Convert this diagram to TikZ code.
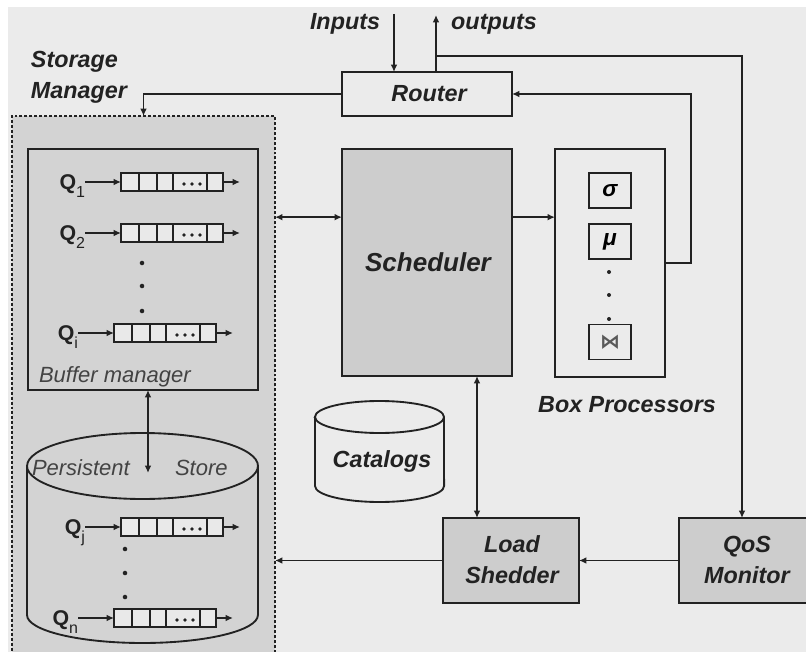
\documentclass[tikz,border=0pt]{standalone}
\usepackage{fontspec}
\setmainfont{Liberation Sans}
\newfontfamily\symfont{DejaVu Sans}
\usetikzlibrary{arrows.meta}

\definecolor{bgc}{HTML}{EBEBEB}
\definecolor{panel}{HTML}{D3D3D3}
\definecolor{unitc}{HTML}{CDCDCD}
\definecolor{cellc}{HTML}{E9E9E9}
\definecolor{ink}{HTML}{222222}

\newcommand\qname[1]{Q\raisebox{-0.7ex}{\fontsize{12}{12}\selectfont\mdseries #1}}

\tikzset{
  conn/.style={draw=ink, line width=1.2pt},
  arr/.style={conn, -{Latex[length=5.5pt,width=5pt]}},
  darr/.style={conn, {Latex[length=5.5pt,width=5pt]}-{Latex[length=5.5pt,width=5pt]}},
  blk/.style={draw=ink, line width=1.4pt, inner sep=0pt, outer sep=0pt},
  title/.style={font=\fontsize{17.5}{23.25}\selectfont\bfseries\itshape, text=ink,
                inner sep=0pt, outer sep=0pt, align=center},
  plainlab/.style={font=\fontsize{16.5}{20}\selectfont\itshape, text=ink!85,
                inner sep=0pt, outer sep=0pt},
  qlab/.style={font=\fontsize{16}{18}\selectfont\bfseries, text=ink, inner sep=0pt, outer sep=0pt},
  vdot/.style={fill=ink},
  queue/.pic={
    \coordinate (-in) at (0,0);
    \path[draw=ink, fill=cellc, line width=1pt] (0,-9) rectangle (102,9);
    \foreach \xx in {18,36,52,86} \draw[ink, line width=1.1pt] (\xx,-9) -- (\xx,9);
    \foreach \xx in {63,71,79} \fill[ink] (\xx,2) circle (1.4pt);
    \coordinate (-out) at (102,0);
    \coordinate (-end) at (119,0);
    \draw[arr] (-out) -- (-end);
  }
}

\begin{document}
\begin{tikzpicture}[x=0.75pt,y=-0.75pt]
\useasboundingbox (0,0) rectangle (806,652);
\fill[white] (0,0) rectangle (806,652);
\fill[bgc] (8,7) rectangle (806,652);

% ---------- storage manager ----------
\node[blk, dash pattern=on 2.2pt off 1.5pt, line width=1.6pt, fill=panel,
      minimum width=263*0.75pt, minimum height=550*0.75pt] (sm) at (143.5,391) {};
\node[title, anchor=west, align=left] (smlab) at (31,77) {Storage\\Manager};

% buffer manager
\node[blk, fill=panel, minimum width=230*0.75pt, minimum height=241*0.75pt] (bm) at (143,269.5) {};
\node[plainlab, anchor=base west] (bmlab) at (39,382) {Buffer manager};

\pic (q1) at (121,182) {queue};
\node[qlab, anchor=base east] (q1lab) at (85,189.5) {\qname{1}};
\draw[arr] (q1lab.east |- q1-in) -- (q1-in);

\pic (q2) at (121,233) {queue};
\node[qlab, anchor=base east] (q2lab) at (85,240.5) {\qname{2}};
\draw[arr] (q2lab.east |- q2-in) -- (q2-in);

\foreach \yy in {263,286,311} \fill[vdot] (142,\yy) circle (1.7pt);

\pic (qi) at (114,333) {queue};
\node[qlab, anchor=base east] (qilab) at (78,340.5) {\qname{i}};
\draw[arr] (qilab.east |- qi-in) -- (qi-in);

% persistent store
\path[draw=ink, fill=panel, line width=1.4pt]
  (27,466) -- (27,615) arc[start angle=180, end angle=360, x radius=86.6pt, y radius=21pt]
  -- (258,466) arc[start angle=0, end angle=180, x radius=86.6pt, y radius=24.75pt] -- cycle;
\draw[ink, line width=1.4pt] (27,466) arc[start angle=180, end angle=360, x radius=86.6pt, y radius=24.75pt];
\node[plainlab, anchor=base west] (pslab1) at (32,475) {Persistent};
\node[plainlab, anchor=base west] (pslab2) at (175,475) {Store};
\coordinate (psc) at (148,473);
\draw[darr] (psc |- bm.south) -- (psc);

\pic (qj) at (121,527) {queue};
\node[qlab, anchor=base east] (qjlab) at (85,534.5) {\qname{j}};
\draw[arr] (qjlab.east |- qj-in) -- (qj-in);

\foreach \yy in {549,573,597} \fill[vdot] (125,\yy) circle (1.7pt);

\pic (qn) at (114,618) {queue};
\node[qlab, anchor=base east] (qnlab) at (78,625.5) {\qname{n}};
\draw[arr] (qnlab.east |- qn-in) -- (qn-in);

% ---------- router ----------
\node[blk, fill=bgc, minimum width=170*0.75pt, minimum height=44*0.75pt] (router) at (427,94) {};
\node[title, anchor=base] (routerlab) at (429,102) {Router};

\coordinate (inp) at (394,14);
\coordinate (outp) at (436,15);
\draw[arr] (inp) -- (inp |- router.north);
\draw[arr] (outp |- router.north) -- (outp);
\node[title, anchor=base] (inlab) at (345,30) {Inputs};
\node[title, anchor=base] (outlab) at (494,30) {outputs};

\draw[arr] (router.west) -| (sm.north);

% ---------- scheduler ----------
\node[blk, fill=unitc, minimum width=170*0.75pt, minimum height=227*0.75pt] (sch) at (427,262.5) {};
\node[title, anchor=base, font=\fontsize{19.5}{23}\selectfont\bfseries\itshape] (schlab) at (428,272) {Scheduler};

% ---------- box processors ----------
\node[blk, fill=bgc, minimum width=110*0.75pt, minimum height=228*0.75pt] (bp) at (610,263) {};
\node[blk, fill=bgc, minimum width=42*0.75pt, minimum height=35*0.75pt,
      font=\fontsize{17}{17}\selectfont\bfseries\itshape] (sel) at (610,190.5) {σ};
\node[blk, fill=bgc, minimum width=42*0.75pt, minimum height=35*0.75pt,
      font=\fontsize{17}{17}\selectfont\bfseries\itshape] (proj) at (610,241.5) {μ};
\foreach \yy in {272,295,319} \fill[vdot] (609,\yy) circle (1.5pt);
\node[blk, fill=bgc, minimum width=42*0.75pt, minimum height=35*0.75pt,
      font=\symfont\bfseries\fontsize{15}{15}\selectfont, text=ink!75] (join) at (610,342) {⋈};
\node[title, anchor=base] (bplab) at (627,412) {Box Processors};

% ---------- catalogs ----------
\path[draw=ink, fill=bgc, line width=1.4pt]
  (315,417) -- (315,486) arc[start angle=180, end angle=360, x radius=48.4pt, y radius=12pt]
  -- (444,417) arc[start angle=0, end angle=180, x radius=48.4pt, y radius=12pt] -- cycle;
\draw[ink, line width=1.4pt] (315,417) arc[start angle=180, end angle=360, x radius=48.4pt, y radius=12pt];
\node[title, anchor=base] (catlab) at (382,467) {Catalogs};

% ---------- load shedder and QoS monitor ----------
\node[blk, fill=unitc, minimum width=136*0.75pt, minimum height=85*0.75pt] (ls) at (511,560.5) {};
\node[title] (lslab) at (512,560) {Load\\Shedder};
\node[blk, fill=unitc, minimum width=136*0.75pt, minimum height=85*0.75pt] (qos) at (747,560.5) {};
\node[title] (qoslab) at (747,560) {QoS\\Monitor};

% ---------- connectors ----------
\draw[darr] ([yshift=34pt]sm.east |- sch.west) -- ([yshift=34pt]sch.west);
\draw[arr] ([yshift=34pt]sch.east) -- ([yshift=34pt]sch.east -| bp.west);
\draw[arr] (bp.east) -- ++(26,0) |- (router.east);
\coordinate (tap) at (436,56);
\coordinate (fb) at (742,56);
\draw[arr] (tap) -- (fb) -- (fb |- qos.north);
\coordinate (schx) at (477,300);
\draw[darr] (schx |- sch.south) -- (schx |- ls.north);
\draw[arr] (qos.west) -- (ls.east);
\draw[arr] (ls.west) -- (ls.west -| sm.east);
\end{tikzpicture}
\end{document}
